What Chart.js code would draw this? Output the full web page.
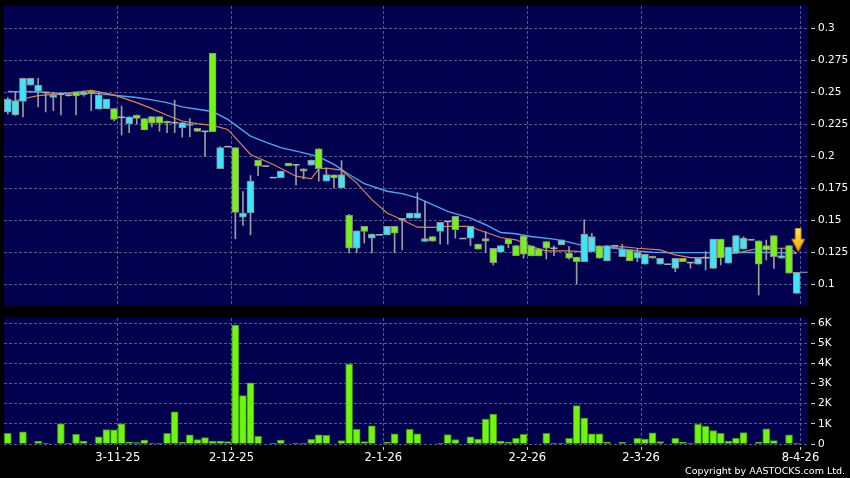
<!DOCTYPE html>
<html>
<head>
<meta charset="utf-8">
<script src="https://cdn.jsdelivr.net/npm/chart.js@4.4.1/dist/chart.umd.min.js"></script>
<style>
html, body { margin:0; padding:0; background:#000; }
#wrap { position:relative; width:850px; height:478px; background:#000; overflow:hidden; }
canvas { position:absolute; left:0; }
#price { top:0; }
#volume { top:312px; }
</style>
</head>
<body>
<div id="wrap">
<canvas id="price" width="850" height="312"></canvas>
<canvas id="volume" width="850" height="166"></canvas>
</div>
<script>
// one slot per trading day, oldest first
var opens = [.2347,.2323,.2429,.2557,.2507,.2500,.2460,.2486,.2478,.2504,
  .2482,.2509,.2368,.2373,.2373,.2305,.2255,.2323,.2295,.2310,
  .2310,.2276,.2263,.2224,.2242,.2219,.2195,.2806,.1902,.2075,
  .2067,.1524,.1556,.1970,.1923,.1833,.1833,.1946,.1933,.1902,
  .1931,.2059,.1805,.1855,.1752,.1537,.1280,.1451,.1359,.1385,
  .1385,.1451,.1509,.1516,.1516,.1333,.1372,.1411,.1490,.1529,
  .1356,.1359,.1312,.1356,.1279,.1249,.1351,.1301,.1377,.1299,
  .1275,.1333,.1280,.1307,.1241,.1210,.1175,.1254,.1299,.1180,
  .1299,.1215,.1267,.1202,.1155,.1218,.1155,.1155,.1123,.1202,
  .1168,.1155,.1207,.1123,.1351,.1163,.1241,.1273,.1346,.1338,
  .1301,.1380,.1202,.1301,.0927];
var highs = [.2460,.2504,.2612,.2612,.2609,.2500,.2503,.2490,.2486,.2504,
  .2509,.2512,.2503,.2447,.2373,.2392,.2308,.2323,.2295,.2310,
  .2310,.2276,.2439,.2263,.2294,.2219,.2195,.2806,.2075,.2075,
  .2067,.1723,.1849,.1970,.1923,.1833,.1884,.1946,.1933,.1902,
  .1970,.2059,.1902,.1855,.1967,.1545,.1417,.1451,.1390,.1385,
  .1451,.1451,.1509,.1556,.1713,.1647,.1372,.1482,.1490,.1529,
  .1356,.1451,.1312,.1411,.1279,.1301,.1351,.1301,.1377,.1299,
  .1275,.1333,.1299,.1346,.1293,.1210,.1503,.1397,.1299,.1300,
  .1299,.1310,.1267,.1280,.1233,.1218,.1202,.1155,.1202,.1202,
  .1168,.1202,.1254,.1351,.1351,.1289,.1380,.1370,.1346,.1338,
  .1344,.1380,.1280,.1301,.1092];
var lows = [.2330,.2320,.2308,.2557,.2386,.2347,.2357,.2323,.2470,.2323,
  .2470,.2357,.2368,.2373,.2276,.2166,.2185,.2251,.2206,.2230,
  .2196,.2185,.2185,.2150,.2153,.2195,.2001,.2193,.1902,.2075,
  .1354,.1458,.1385,.1849,.1923,.1833,.1833,.1925,.1773,.1822,
  .1931,.1805,.1805,.1752,.1752,.1244,.1244,.1320,.1244,.1385,
  .1385,.1244,.1267,.1516,.1516,.1333,.1335,.1312,.1312,.1359,
  .1356,.1301,.1273,.1246,.1149,.1249,.1283,.1222,.1202,.1220,
  .1220,.1196,.1222,.1307,.1194,.1000,.1175,.1254,.1202,.1180,
  .1299,.1215,.1181,.1175,.1155,.1202,.1155,.1155,.1096,.1175,
  .1123,.1155,.1110,.1123,.1149,.1163,.1241,.1273,.1346,.0914,
  .1188,.1123,.1202,.1084,.0927];
var closes = [.2447,.2433,.2609,.2609,.2557,.2500,.2478,.2486,.2478,.2473,
  .2504,.2491,.2478,.2447,.2289,.2305,.2308,.2297,.2206,.2258,
  .2258,.2258,.2263,.2263,.2255,.2195,.2195,.2193,.2067,.2075,
  .1561,.1556,.1805,.1923,.1923,.1833,.1884,.1925,.1933,.1884,
  .1970,.1902,.1857,.1831,.1857,.1280,.1417,.1411,.1390,.1385,
  .1451,.1398,.1509,.1556,.1556,.1356,.1335,.1482,.1490,.1425,
  .1356,.1451,.1273,.1335,.1168,.1301,.1314,.1222,.1233,.1220,
  .1220,.1280,.1280,.1346,.1202,.1175,.1390,.1372,.1202,.1300,
  .1299,.1273,.1181,.1249,.1233,.1202,.1202,.1155,.1202,.1175,
  .1168,.1202,.1207,.1351,.1206,.1289,.1380,.1359,.1346,.1155,
  .1267,.1215,.1222,.1084,.1092];
var volumes = [530,0,600,0,150,50,0,1000,50,480,
  150,0,350,720,700,1000,100,70,200,50,
  50,530,1600,100,450,220,320,150,150,120,
  5900,2400,3030,380,0,50,200,0,50,50,
  230,450,430,0,170,3970,730,120,900,0,
  100,500,0,730,500,0,0,50,470,220,
  0,350,250,1230,1480,150,100,280,480,0,
  0,530,50,50,280,1900,1280,500,500,80,
  0,80,0,280,250,550,120,0,280,80,
  50,970,880,670,530,150,280,570,0,100,
  750,170,0,450,50];

// moving averages: [slot, value]
var maFast = [[0,.2420],[2,.2450],[4,.2475],[8,.2494],[11,.2515],[14,.2480],[17,.2420],[19,.2373],
  [21,.2321],[23,.2276],[25,.2255],[27,.2242],[29,.2210],[32,.2014],[35,.1936],[37,.1875],[38,.1844],
  [40,.1823],[41,.1902],[42,.1907],[44,.1891],[46,.1792],[48,.1660],[50,.1556],[52,.1503],[54,.1445],
  [56,.1443],[58,.1451],[61,.1451],[62,.1425],[65,.1364],[67,.1346],[69,.1293],[71,.1259],[74,.1259],
  [76,.1252],[78,.1280],[81,.1293],[83,.1280],[86,.1267],[88,.1228],[90,.1207],[93,.1207],[95,.1233],
  [97,.1254],[99,.1280],[101,.1280],[103,.1280],[104,.1241]];
var maSlow = [[0,.2507],[1,.2505],[3,.2507],[6,.2494],[8,.2494],[10,.2494],[12,.2490],[14,.2478],
  [17,.2460],[19,.2441],[21,.2420],[23,.2386],[25,.2368],[27,.2350],[29,.2289],[32,.2158],[34,.2111],
  [36,.2067],[39,.2027],[41,.1996],[43,.1936],[45,.1857],[47,.1786],[50,.1726],[52,.1708],[54,.1674],
  [56,.1621],[58,.1568],[61,.1516],[63,.1464],[65,.1403],[67,.1393],[69,.1372],[72,.1351],[74,.1328],
  [76,.1299],[78,.1290],[80,.1280],[83,.1259],[85,.1249],[87,.1246],[91,.1246],[96,.1246],[100,.1249],
  [104,.1240]];

var dateLabels = ['3-11-25','2-12-25','2-1-26','2-2-26','2-3-26','8-4-26'];
var dateSlots = [14, 29, 49, 68, 83, 104];
var priceTicks = [0.1, 0.125, 0.15, 0.175, 0.2, 0.225, 0.25, 0.275, 0.3];
var volumeTicks = [0, 1000, 2000, 3000, 4000, 5000, 6000];
var volumeTickLabels = ['0','1K','2K','3K','4K','5K','6K'];
var arrowSpot = {x: 104.2, y: 0.1344};

var slotCount = 106;
var UP = '#3fe4f6', DOWN = '#74f414';
var NAVY = '#00004f', GRID = '#58588c';
var FONT = 'DejaVu Sans';

Chart.defaults.font.family = FONT;

var plotBg = {
  id: 'plotBg',
  beforeDraw: function(chart) {
    var a = chart.chartArea, ctx = chart.ctx;
    ctx.save();
    ctx.fillStyle = '#000';
    ctx.fillRect(0, 0, chart.width, chart.height);
    ctx.fillStyle = NAVY;
    ctx.fillRect(a.left, a.top, a.right - a.left, a.bottom - a.top);
    ctx.restore();
  }
};

function xAxis(showLabels) {
  return {
    type: 'linear', min: -0.5, max: slotCount - 0.5, offset: false, bounds: 'data',
    afterBuildTicks: function(s) { s.ticks = dateSlots.map(function(i) { return {value: i + 0.5}; }); },
    afterFit: function(s) { s.height = showLabels ? 34 : 0; s.paddingLeft = 0; s.paddingRight = 0; },
    grid: { offset: false, color: GRID, drawTicks: showLabels, tickLength: 6, tickColor: '#d0d0d0',
      tickBorderDash: [0, 3, 3, 20], borderDash: [3, 2] },
    border: { display: false, dash: [3, 2] },
    ticks: { display: showLabels, autoSkip: false, maxRotation: 0, padding: 1, color: '#fff',
      font: { size: 11.5 }, callback: function(v, i) { return dateLabels[i]; } }
  };
}

function yAxis(min, max, tickValues, label) {
  return {
    position: 'right', min: min, max: max,
    afterBuildTicks: function(s) { s.ticks = tickValues.map(function(v) { return {value: v}; }); },
    afterFit: function(s) { s.width = 42; s.paddingTop = 0; s.paddingBottom = 0; },
    grid: { color: GRID, tickLength: 7, tickColor: '#c8c8c8', tickBorderDash: [0, 3, 4, 20], borderDash: [3, 2] },
    border: { display: false, dash: [3, 2] },
    ticks: { color: '#fff', padding: 3, font: { size: 10.5 }, callback: label }
  };
}

function makeArrow() {
  var c = document.createElement('canvas');
  c.width = 15; c.height = 25;
  var g = c.getContext('2d');
  var grad = g.createLinearGradient(0, 0, 0, 25);
  grad.addColorStop(0, '#ffe85a');
  grad.addColorStop(1, '#f4a400');
  g.beginPath();
  g.moveTo(4.5, 0.5); g.lineTo(10.5, 0.5); g.lineTo(10.5, 11.5); g.lineTo(14, 11.5);
  g.lineTo(7.5, 24); g.lineTo(1, 11.5); g.lineTo(4.5, 11.5); g.closePath();
  g.fillStyle = grad; g.fill();
  g.strokeStyle = '#b07000'; g.lineWidth = 1; g.stroke();
  return c;
}

var wicks = [], bodies = [], bodyColors = [], dashes = [];
for (var i = 0; i < opens.length; i++) {
  wicks.push({x: i, y: [lows[i], highs[i]]});
  if (opens[i] === closes[i]) {
    dashes.push({x: i, y: closes[i]});
  } else {
    bodies.push({x: i, y: [Math.min(opens[i], closes[i]), Math.max(opens[i], closes[i])]});
    bodyColors.push(closes[i] > opens[i] ? UP : DOWN);
  }
}
var last = opens.length - 1;

new Chart(document.getElementById('price'), {
  type: 'bar',
  data: {
    datasets: [
      { type: 'line', data: [arrowSpot], showLine: false, pointStyle: makeArrow(), pointRadius: 8, order: 0 },
      { type: 'line', data: [{x: last + 1, y: closes[last]}], showLine: false, pointStyle: 'line',
        pointRadius: 3.5, pointBorderColor: '#a8a8a8', pointBorderWidth: 1, order: 1 },
      { type: 'line', data: dashes, showLine: false, pointStyle: 'line', pointRadius: 3.5,
        pointBorderColor: '#b4b4b4', pointBorderWidth: 1.5, order: 2 },
      { data: bodies, backgroundColor: bodyColors, borderColor: '#8e8e8e', borderWidth: 1,
        borderSkipped: false, grouped: false, barThickness: 7, maxBarThickness: 7, order: 3 },
      { data: wicks, backgroundColor: '#9c9c9c', borderWidth: 0, grouped: false,
        barThickness: 1, maxBarThickness: 1, order: 4 },
      { type: 'line', data: maFast.map(function(p) { return {x: p[0], y: p[1]}; }),
        borderColor: '#e0824a', borderWidth: 1.2, pointRadius: 0, order: 5 },
      { type: 'line', data: maSlow.map(function(p) { return {x: p[0], y: p[1]}; }),
        borderColor: '#4aa6f0', borderWidth: 1.4, pointRadius: 0, order: 6 }
    ]
  },
  options: {
    responsive: false, animation: false, events: [],
    layout: { autoPadding: false, padding: { left: 4, top: 6, right: 0, bottom: 6 } },
    plugins: { legend: { display: false }, tooltip: { enabled: false } },
    scales: {
      x: xAxis(false),
      y: yAxis(0.0828, 0.3176, priceTicks, function(v) { return String(+v.toFixed(3)); })
    }
  },
  plugins: [plotBg]
});

new Chart(document.getElementById('volume'), {
  type: 'bar',
  data: {
    datasets: [
      { data: volumes.map(function(v, i) { return {x: i, y: v}; }), backgroundColor: '#70f512',
        borderColor: '#3e9410', borderWidth: 1, barThickness: 7 }
    ]
  },
  options: {
    responsive: false, animation: false, events: [],
    layout: { autoPadding: false, padding: { left: 4, top: 6, right: 0, bottom: 0 } },
    plugins: { legend: { display: false }, tooltip: { enabled: false } },
    scales: {
      x: xAxis(true),
      y: yAxis(0, 6250, volumeTicks, function(v, i) { return volumeTickLabels[i]; })
    }
  },
  plugins: [plotBg, {
    id: 'copyright',
    afterDraw: function(chart) {
      var ctx = chart.ctx;
      ctx.save();
      ctx.font = '9.5px "' + FONT + '"';
      ctx.fillStyle = '#fff';
      ctx.textAlign = 'right';
      ctx.textBaseline = 'middle';
      ctx.fillText('Copyright by AASTOCKS.com Ltd.', chart.width - 5, 160);
      ctx.restore();
    }
  }]
});
</script>
</body>
</html>
